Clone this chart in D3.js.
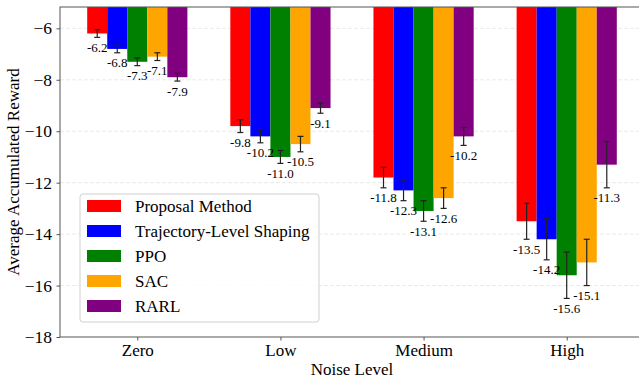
<!DOCTYPE html>
<html>
<head>
  <meta charset="utf-8">
  <title>Average Accumulated Reward by Noise Level</title>
  <style>
    body { margin: 0; background: #fff; }
    text { font-family: "Liberation Serif", "Times New Roman", serif; fill: #000; }
    .grid line { stroke: #e4e4e4; stroke-dasharray: 4,2; stroke-width: 0.8; }
    .axis path, .axis line { stroke: #555; }
    .err { stroke: #222; stroke-width: 1.2; }
    .val { font-size: 13px; text-anchor: middle; }
  </style>
  <script src="https://d3js.org/d3.v7.min.js"></script>
</head>
<body>
  <script>
    // data
    var categories = ["Zero", "Low", "Medium", "High"];
    var methods = ["Proposal Method", "Trajectory-Level Shaping", "PPO", "SAC", "RARL"];
    var colors = ["#ff0000", "#0000ff", "#008000", "#ffa500", "#800080"];

    var proposal   = [-6.2, -9.8, -11.8, -13.5];
    var trajectory = [-6.8, -10.2, -12.3, -14.2];
    var ppo        = [-7.3, -11.0, -13.1, -15.6];
    var sac        = [-7.1, -10.5, -12.6, -15.1];
    var rarl       = [-7.9, -9.1, -10.2, -11.3];

    var proposalErr   = [0.15, 0.25, 0.4, 0.7];
    var trajectoryErr = [0.15, 0.25, 0.4, 0.8];
    var ppoErr        = [0.15, 0.25, 0.4, 0.9];
    var sacErr        = [0.15, 0.3, 0.4, 0.9];
    var rarlErr       = [0.15, 0.2, 0.35, 0.9];

    var yTicks = [-18, -16, -14, -12, -10, -8, -6];

    var values = [proposal, trajectory, ppo, sac, rarl];
    var errors = [proposalErr, trajectoryErr, ppoErr, sacErr, rarlErr];

    var width = 639, height = 379;
    var mLeft = 60, mRight = 644, mTop = 7, mBottom = 337;
    var yMax = -5.17;
    var barW = 0.14;

    var svg = d3.select("body").append("svg")
      .attr("width", width)
      .attr("height", height);

    var x = d3.scaleLinear().domain([-0.54, 3.54]).range([mLeft, mRight]);
    var y = d3.scaleLinear().domain([-18, yMax]).range([mBottom, mTop]);

    // grid
    svg.append("g").attr("class", "grid")
      .selectAll("line")
      .data(yTicks.slice(1))
      .enter().append("line")
        .attr("x1", mLeft).attr("x2", mRight)
        .attr("y1", d => y(d)).attr("y2", d => y(d));

    // bars
    var rows = [];
    values.forEach(function(s, j) {
      s.forEach(function(v, i) {
        rows.push({ j: j, i: i, v: v, e: errors[j][i], cx: i + (j - 2) * barW });
      });
    });

    svg.append("g").selectAll("rect")
      .data(rows)
      .enter().append("rect")
        .attr("x", d => x(d.cx - barW / 2))
        .attr("width", x(barW) - x(0))
        .attr("y", y(yMax))
        .attr("height", d => y(d.v) - y(yMax))
        .attr("fill", d => colors[d.j]);

    // error bars
    var eg = svg.append("g");
    eg.selectAll(".ev").data(rows).enter().append("line")
      .attr("class", "err")
      .attr("x1", d => x(d.cx)).attr("x2", d => x(d.cx))
      .attr("y1", d => y(d.v + d.e)).attr("y2", d => y(d.v - d.e));
    eg.selectAll(".ct").data(rows).enter().append("line")
      .attr("class", "err")
      .attr("x1", d => x(d.cx) - 3).attr("x2", d => x(d.cx) + 3)
      .attr("y1", d => y(d.v + d.e)).attr("y2", d => y(d.v + d.e));
    eg.selectAll(".cb").data(rows).enter().append("line")
      .attr("class", "err")
      .attr("x1", d => x(d.cx) - 3).attr("x2", d => x(d.cx) + 3)
      .attr("y1", d => y(d.v - d.e)).attr("y2", d => y(d.v - d.e));

    // value labels
    svg.append("g").selectAll("text")
      .data(rows)
      .enter().append("text")
        .attr("class", "val")
        .attr("x", d => x(d.cx))
        .attr("y", d => y(d.v - d.e) + 14.5)
        .text(d => d.v.toFixed(1));

    // axes
    var yAxis = d3.axisLeft(y)
      .tickValues(yTicks)
      .tickSize(3.5)
      .tickPadding(4.5)
      .tickFormat(d => String(d).replace("-", "\u2212"));
    var gy = svg.append("g").attr("class", "axis")
      .attr("transform", "translate(" + mLeft + ",0)")
      .call(yAxis);
    gy.select(".domain").remove();
    gy.selectAll("text").style("font-size", "17.5px");

    var xAxis = d3.axisBottom(x)
      .tickValues([0, 1, 2, 3])
      .tickSize(3.5)
      .tickPadding(3)
      .tickFormat(d => categories[d]);
    var gx = svg.append("g").attr("class", "axis")
      .attr("transform", "translate(0," + mBottom + ")")
      .call(xAxis);
    gx.select(".domain").remove();
    gx.selectAll("text").style("font-size", "17px");

    // spines
    svg.append("rect")
      .attr("x", mLeft).attr("y", mTop)
      .attr("width", mRight - mLeft).attr("height", mBottom - mTop)
      .attr("fill", "none").attr("stroke", "#555").attr("stroke-width", 1);

    // axis labels
    svg.append("text")
      .attr("x", (mLeft + mRight) / 2).attr("y", 375)
      .attr("text-anchor", "middle")
      .style("font-size", "17px")
      .text("Noise Level");
    svg.append("text")
      .attr("transform", "translate(19," + (mTop + mBottom) / 2 + ") rotate(-90)")
      .attr("text-anchor", "middle")
      .style("font-size", "17px")
      .text("Average Accumulated Reward");

    // legend
    var lg = svg.append("g");
    lg.append("rect")
      .attr("x", 80).attr("y", 194).attr("width", 239).attr("height", 128)
      .attr("rx", 3)
      .attr("fill", "#fff").attr("fill-opacity", 0.8)
      .attr("stroke", "#d0d0d0");
    var item = lg.selectAll(".item")
      .data(methods)
      .enter().append("g")
        .attr("transform", (d, k) => "translate(0," + (206 + 25 * k) + ")");
    item.append("rect")
      .attr("x", 87).attr("y", -6).attr("width", 34).attr("height", 12)
      .attr("fill", (d, k) => colors[k]);
    item.append("text")
      .attr("x", 135).attr("y", 6)
      .style("font-size", "17px")
      .text(d => d);
  </script>
</body>
</html>
